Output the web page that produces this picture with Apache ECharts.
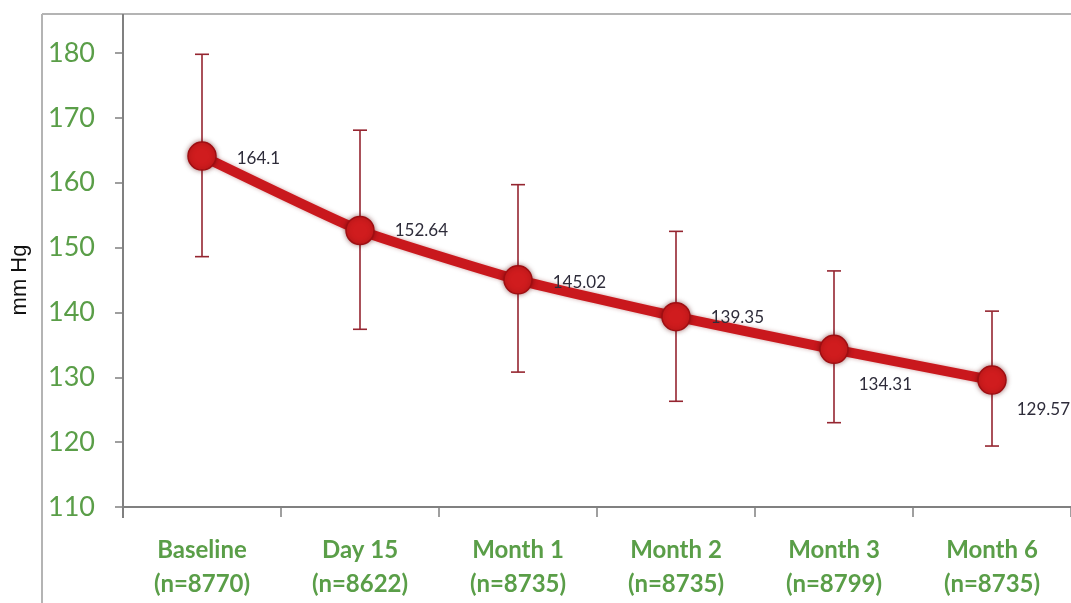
<!DOCTYPE html>
<html>
<head>
<meta charset="utf-8">
<script src="https://cdn.jsdelivr.net/npm/echarts@6/dist/echarts.min.js"></script>
<style>
html,body{margin:0;padding:0;background:#fff;}
#chart{width:1071px;height:603px;}
</style>
</head>
<body>
<div id="chart"></div>
<script>
// ---- data ----
var categories = ['Baseline', 'Day 15', 'Month 1', 'Month 2', 'Month 3', 'Month 6'];
var sampleSizes = ['(n=8770)', '(n=8622)', '(n=8735)', '(n=8735)', '(n=8799)', '(n=8735)'];
var meanValues = [164.1, 152.64, 145.02, 139.35, 134.31, 129.57];
var errorLow = [148.6, 137.4, 130.8, 126.3, 123.0, 119.4];
var errorHigh = [179.8, 168.1, 159.7, 152.5, 146.4, 140.2];
var yTicks = [110, 120, 130, 140, 150, 160, 170, 180];

// ---- styling ----
var labelOffsets = [[0, 2], [0, 0], [0, 3], [0, 1], [-10, 35], [-10, 29]];
var green = '#5a9e48';

var chart = echarts.init(document.getElementById('chart'), null, {renderer: 'canvas'});

var lineData = meanValues.map(function (v, i) {
  return {
    value: v,
    label: {offset: labelOffsets[i]}
  };
});

var errData = categories.map(function (c, i) {
  return [i, errorLow[i], errorHigh[i]];
});

var option = {
  backgroundColor: '#ffffff',
  animation: false,
  grid: {left: 123, right: 0, top: 53, bottom: 96},
  xAxis: {
    type: 'category',
    data: categories,
    boundaryGap: true,
    axisLine: {lineStyle: {color: '#808080', width: 2}},
    axisTick: {show: true, length: 10, lineStyle: {color: '#808080', width: 1.5}},
    axisLabel: {
      interval: 0,
      margin: 26,
      color: green,
      fontFamily: 'Lato',
      fontWeight: 'bold',
      fontSize: 24,
      lineHeight: 34,
      formatter: function (v, i) { return v + '\n' + sampleSizes[i]; }
    }
  },
  yAxis: {
    type: 'value',
    min: yTicks[0],
    max: yTicks[yTicks.length - 1],
    interval: 10,
    name: 'mm Hg',
    nameLocation: 'middle',
    nameGap: 92,
    nameRotate: 90,
    nameTextStyle: {color: '#111', fontSize: 22, fontFamily: 'Liberation Sans'},
    splitLine: {show: false},
    axisLine: {show: true, lineStyle: {color: '#808080', width: 2}},
    axisTick: {show: true, length: 8, lineStyle: {color: '#808080', width: 1.5}},
    axisLabel: {color: green, fontSize: 27, fontFamily: 'Lato', margin: 28}
  },
  graphic: [
    {type: 'line', shape: {x1: 42, y1: 14, x2: 42, y2: 603}, style: {stroke: '#b4b4b4', lineWidth: 2}, z: 0},
    {type: 'line', shape: {x1: 42, y1: 14, x2: 1071, y2: 14}, style: {stroke: '#b4b4b4', lineWidth: 2}, z: 0},
    {type: 'line', shape: {x1: 123, y1: 14, x2: 123, y2: 54}, style: {stroke: '#808080', lineWidth: 2}, z: 0},
    {type: 'line', shape: {x1: 123, y1: 506, x2: 123, y2: 518}, style: {stroke: '#808080', lineWidth: 2}, z: 0}
  ],
  series: [
    {
      type: 'custom',
      z: 1,
      data: errData,
      renderItem: function (params, api) {
        var x = api.value(0);
        var lo = api.coord([x, api.value(1)]);
        var hi = api.coord([x, api.value(2)]);
        var cap = 7;
        var st = {stroke: '#952530', lineWidth: 1.6};
        return {
          type: 'group',
          children: [
            {type: 'line', shape: {x1: lo[0], y1: lo[1], x2: hi[0], y2: hi[1]}, style: st},
            {type: 'line', shape: {x1: hi[0] - cap, y1: hi[1], x2: hi[0] + cap, y2: hi[1]}, style: st},
            {type: 'line', shape: {x1: lo[0] - cap, y1: lo[1], x2: lo[0] + cap, y2: lo[1]}, style: st}
          ]
        };
      }
    },
    {
      type: 'line',
      z: 3,
      data: lineData,
      smooth: 0.15,
      symbol: 'circle',
      symbolSize: 28,
      lineStyle: {color: '#c9181d', width: 10, shadowColor: 'rgba(120,0,0,0.35)', shadowBlur: 4},
      itemStyle: {color: '#d01c1e', borderColor: '#9e0e12', borderWidth: 1.5, shadowColor: 'rgba(90,0,0,0.5)', shadowBlur: 5},
      label: {
        show: true,
        position: 'right',
        distance: 20,
        color: '#2e2c3a',
        fontSize: 17,
        fontFamily: 'Lato',
        formatter: function (p) { return String(meanValues[p.dataIndex]); }
      }
    }
  ]
};

chart.setOption(option);
</script>
</body>
</html>
